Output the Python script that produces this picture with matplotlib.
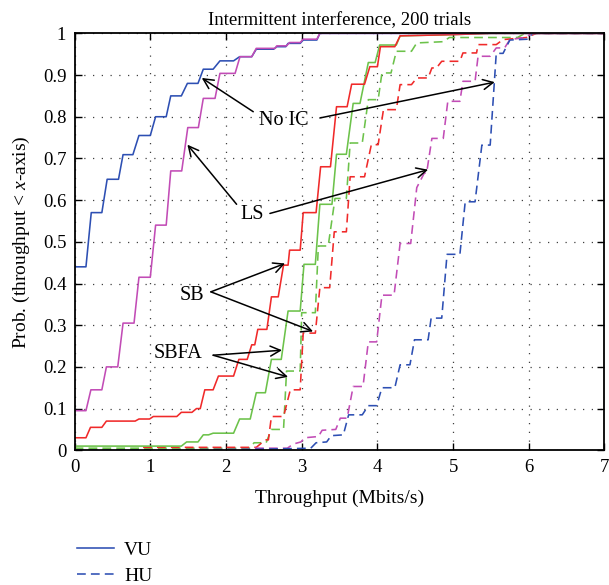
import matplotlib
matplotlib.use("Agg")
import matplotlib.pyplot as plt
from matplotlib.lines import Line2D
from matplotlib.ticker import FuncFormatter

plt.rcParams['font.family'] = ['Liberation Serif', 'DejaVu Serif']
plt.rcParams['mathtext.fontset'] = 'custom'
plt.rcParams['mathtext.rm'] = 'Liberation Serif'
plt.rcParams['mathtext.it'] = 'Liberation Serif:italic'

# ---------------- data ----------------
title = "Intermittent interference, 200 trials"
x_label = "Throughput (Mbits/s)"
y_label = "Prob. (throughput < $x$-axis)"
x_ticks = [0, 1, 2, 3, 4, 5, 6, 7]
y_ticks = [0, 0.1, 0.2, 0.3, 0.4, 0.5, 0.6, 0.7, 0.8, 0.9, 1.0]

# No IC, VU (solid blue)
noic_vu_x = [0, 0.15, 0.22, 0.36, 0.43, 0.58, 0.64, 0.77, 0.85, 1.0, 1.07, 1.21, 1.27, 1.41, 1.49, 1.63,
             1.70, 1.83, 1.92, 2.10, 2.18, 2.34, 2.40, 2.63, 2.67, 2.79, 2.82, 2.98, 3.02, 3.20, 3.24, 7.0]
noic_vu_y = [0.44, 0.44, 0.57, 0.57, 0.65, 0.65, 0.709, 0.709, 0.755, 0.755, 0.80, 0.80, 0.85, 0.85, 0.88, 0.88,
             0.914, 0.914, 0.934, 0.934, 0.944, 0.944, 0.962, 0.962, 0.968, 0.968, 0.976, 0.976, 0.984, 0.984, 1.0, 1.0]
# LS, VU (solid magenta)
ls_vu_x = [0, 0.15, 0.215, 0.36, 0.42, 0.57, 0.64, 0.785, 0.85, 1.0, 1.07, 1.21, 1.27, 1.415, 1.495, 1.635,
           1.70, 1.855, 1.92, 2.12, 2.185, 2.34, 2.40, 2.65, 2.67, 2.80, 2.84, 2.98, 3.02, 3.20, 3.24, 7.0]
ls_vu_y = [0.095, 0.095, 0.145, 0.145, 0.20, 0.20, 0.305, 0.305, 0.415, 0.415, 0.54, 0.54, 0.67, 0.67, 0.774, 0.774,
           0.844, 0.844, 0.904, 0.904, 0.944, 0.944, 0.964, 0.964, 0.970, 0.970, 0.978, 0.978, 0.986, 0.986, 1.0, 1.0]
# SB, VU (solid red)
sb_vu_x = [0, 0.15, 0.21, 0.36, 0.42, 0.80, 0.85, 0.99, 1.04, 1.35, 1.41, 1.55, 1.61, 1.66, 1.72, 1.83,
           1.90, 2.10, 2.17, 2.28, 2.34, 2.38, 2.42, 2.54, 2.60, 2.69, 2.76, 2.82, 2.84, 2.98, 3.02, 3.19,
           3.25, 3.38, 3.46, 3.60, 3.66, 3.83, 3.90, 4.00, 4.04, 4.23, 4.30, 5.0, 5.5, 7.0]
sb_vu_y = [0.03, 0.03, 0.055, 0.055, 0.07, 0.07, 0.075, 0.075, 0.081, 0.081, 0.091, 0.091, 0.10, 0.10, 0.145, 0.145,
           0.178, 0.178, 0.218, 0.218, 0.253, 0.253, 0.29, 0.29, 0.368, 0.368, 0.444, 0.444, 0.48, 0.48, 0.57, 0.57,
           0.68, 0.68, 0.824, 0.824, 0.878, 0.878, 0.92, 0.92, 0.968, 0.968, 0.994, 0.997, 1.0, 1.0]
# SBFA, VU (solid green)
sbfa_vu_x = [0, 1.41, 1.48, 1.63, 1.70, 1.77, 1.83, 2.10, 2.18, 2.32, 2.40, 2.52, 2.60, 2.73, 2.82, 2.98,
             3.03, 3.18, 3.24, 3.40, 3.46, 3.59, 3.68, 3.77, 3.88, 3.97, 4.03, 4.25, 4.30, 5.0, 5.5, 7.0]
sbfa_vu_y = [0.01, 0.01, 0.02, 0.02, 0.037, 0.037, 0.041, 0.041, 0.075, 0.075, 0.138, 0.138, 0.218, 0.218, 0.334, 0.334,
             0.446, 0.446, 0.59, 0.59, 0.71, 0.71, 0.832, 0.832, 0.93, 0.93, 0.972, 0.972, 0.994, 0.997, 1.0, 1.0]

# No IC, HU (dashed blue)
noic_hu_x = [0, 2.30, 3.12, 3.19, 3.33, 3.39, 3.55, 3.62, 3.80, 3.88, 3.99, 4.06, 4.23, 4.30, 4.43, 4.49,
             4.67, 4.71, 4.85, 4.92, 5.09, 5.16, 5.29, 5.38, 5.49, 5.57, 5.66, 5.75, 5.99, 6.05, 7.0]
noic_hu_y = [0, 0.002, 0.005, 0.018, 0.02, 0.035, 0.037, 0.085, 0.085, 0.107, 0.107, 0.15, 0.15, 0.205, 0.205, 0.265,
             0.265, 0.317, 0.317, 0.47, 0.47, 0.596, 0.596, 0.732, 0.732, 0.952, 0.952, 0.984, 0.986, 1.0, 1.0]
# LS, HU (dashed magenta)
ls_hu_x = [0, 2.30, 2.35, 2.81, 2.89, 2.99, 3.04, 3.22, 3.27, 3.45, 3.51, 3.60, 3.68, 3.81, 3.88, 3.99,
           4.06, 4.22, 4.30, 4.44, 4.52, 4.62, 4.65, 4.72, 4.87, 4.93, 5.09, 5.13, 5.29, 5.33, 5.49, 5.57,
           5.68, 5.75, 5.95, 6.05, 7.0]
ls_hu_y = [0, 0.002, 0.005, 0.005, 0.015, 0.02, 0.03, 0.033, 0.048, 0.05, 0.077, 0.077, 0.153, 0.153, 0.26, 0.26,
           0.372, 0.372, 0.496, 0.496, 0.63, 0.665, 0.665, 0.748, 0.748, 0.837, 0.837, 0.885, 0.885, 0.945, 0.945, 0.965,
           0.965, 0.985, 0.99, 1.0, 1.0]
# SB, HU (dashed red)
sb_hu_x = [0, 0.85, 0.90, 2.40, 2.52, 2.56, 2.60, 2.76, 2.85, 2.98, 3.02, 3.18, 3.24, 3.37, 3.43, 3.59,
           3.64, 3.83, 3.92, 4.01, 4.08, 4.25, 4.30, 4.45, 4.52, 4.67, 4.72, 4.78, 4.85, 5.09, 5.13, 5.31,
           5.33, 5.57, 5.66, 5.97, 6.10, 7.0]
sb_hu_y = [0, 0, 0.007, 0.007, 0.025, 0.025, 0.081, 0.081, 0.145, 0.145, 0.281, 0.281, 0.39, 0.39, 0.524, 0.524,
           0.656, 0.656, 0.733, 0.733, 0.817, 0.817, 0.877, 0.877, 0.893, 0.893, 0.917, 0.917, 0.933, 0.933, 0.953, 0.953,
           0.973, 0.973, 0.985, 0.99, 1.0, 1.0]
# SBFA, HU (dashed green)
sbfa_hu_x = [0, 2.32, 2.37, 2.53, 2.60, 2.76, 2.80, 2.98, 3.00, 3.18, 3.22, 3.35, 3.44, 3.59, 3.64, 3.80,
             3.88, 4.01, 4.06, 4.18, 4.25, 4.45, 4.52, 4.87, 4.95, 5.85, 5.95, 7.0]
sbfa_hu_y = [0.005, 0.005, 0.018, 0.018, 0.05, 0.05, 0.19, 0.19, 0.33, 0.33, 0.49, 0.49, 0.604, 0.604, 0.737, 0.737,
             0.841, 0.841, 0.905, 0.905, 0.957, 0.957, 0.977, 0.98, 0.99, 0.99, 1.0, 1.0]

# annotations: label, text position, arrow tails and tips
ann_labels = ["No IC", "LS", "SB", "SBFA"]
ann_text_xy = [(2.77, 0.792), (2.35, 0.566), (1.55, 0.372), (1.36, 0.233)]
ann_tails = [[(2.36, 0.812), (3.24, 0.797)],
             [(2.14, 0.59), (2.58, 0.568)],
             [(1.80, 0.38), (1.80, 0.38)],
             [(1.83, 0.228), (1.83, 0.228)]]
ann_tips = [[(1.68, 0.893), (5.55, 0.883)],
            [(1.49, 0.733), (4.67, 0.673)],
            [(2.78, 0.448), (3.15, 0.285)],
            [(2.74, 0.24), (2.82, 0.176)]]

legend_labels = ["VU", "HU"]

# ---------------- plot ----------------
c_blue = '#2d4fb3'
c_mag = '#c24cb6'
c_red = '#f02a2a'
c_green = '#6cc24a'
lw = 1.15
dash = (0, (5.5, 3.2))

fig = plt.figure(figsize=(6.09, 5.85), dpi=100)
ax = fig.add_axes([0.1225, 0.2303, 0.8701, 0.7127])

ax.plot(sbfa_hu_x, sbfa_hu_y, color=c_green, lw=lw, ls=dash)
ax.plot(sb_hu_x, sb_hu_y, color=c_red, lw=lw, ls=dash)
ax.plot(ls_hu_x, ls_hu_y, color=c_mag, lw=lw, ls=dash)
ax.plot(noic_hu_x, noic_hu_y, color=c_blue, lw=lw, ls=dash)
ax.plot(sbfa_vu_x, sbfa_vu_y, color=c_green, lw=lw)
ax.plot(sb_vu_x, sb_vu_y, color=c_red, lw=lw)
ax.plot(noic_vu_x, noic_vu_y, color=c_blue, lw=lw)
ax.plot(ls_vu_x, ls_vu_y, color=c_mag, lw=lw)

ax.set_xlim(0, 7)
ax.set_ylim(0, 1)
ax.set_xticks(x_ticks)
ax.set_yticks(y_ticks)
ax.yaxis.set_major_formatter(FuncFormatter(lambda v, p: ('%g' % round(v, 2))))
ax.tick_params(direction='in', length=5, width=1.0, top=True, right=True, labelsize=13.5, pad=6)
ax.grid(True, color='0.25', ls=(0, (1, 6)), lw=0.9)
for s in ax.spines.values():
    s.set_linewidth(1.3)

ax.set_title(title, fontsize=13.5, pad=6)
ax.set_xlabel(x_label, fontsize=14, labelpad=10)
ax.set_ylabel(y_label, fontsize=14, labelpad=8)

for lab, txy, tails, tips in zip(ann_labels, ann_text_xy, ann_tails, ann_tips):
    ax.text(txy[0], txy[1], lab, fontsize=14.5, ha='center', va='center', zorder=5)
    for tail, tip in zip(tails, tips):
        ax.annotate('', xy=tip, xytext=tail,
                    arrowprops=dict(arrowstyle='->', color='black', lw=1.1,
                                    shrinkA=0, shrinkB=0, mutation_scale=18), zorder=6)

handles = [Line2D([0], [0], color=c_blue, lw=lw),
           Line2D([0], [0], color=c_blue, lw=lw, ls=dash)]
fig.legend(handles, legend_labels, loc='upper left', bbox_to_anchor=(0.097, 0.104),
           frameon=False, fontsize=14, handlelength=1.9, handletextpad=0.55, labelspacing=0.4)

fig.savefig('out.png', dpi=100)
